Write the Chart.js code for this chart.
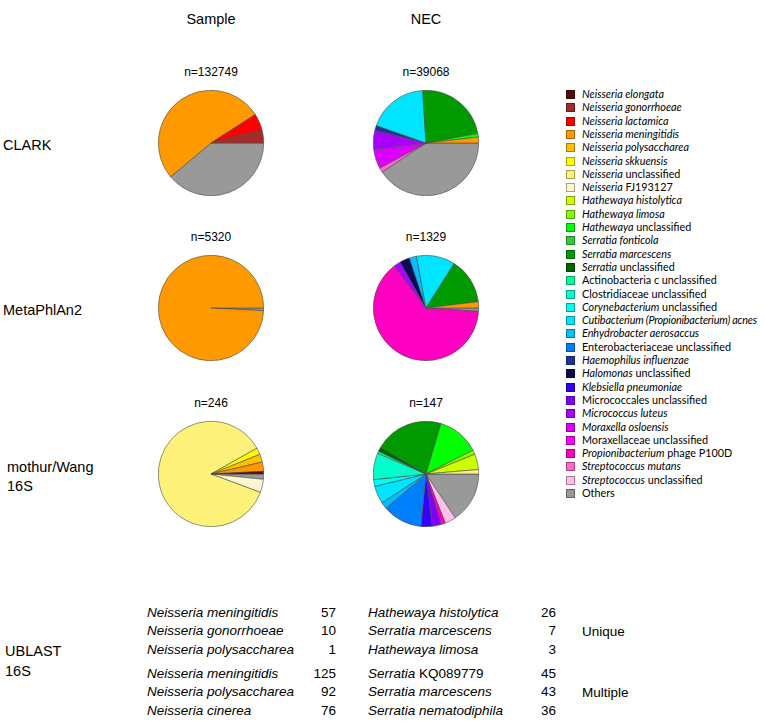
<!DOCTYPE html>
<html>
<head>
<meta charset="utf-8">
<script src="https://cdn.jsdelivr.net/npm/chart.js@4.4.1/dist/chart.umd.min.js"></script>
<style>
  html, body { margin: 0; padding: 0; background: #fff; }
  body { width: 765px; height: 727px; position: relative; overflow: hidden;
         font-family: "Liberation Sans", Arial, sans-serif; color: #000; }
  .txt { position: absolute; white-space: nowrap; }
  .pie { position: absolute; width: 106px; height: 106px; }
  .leg { position: absolute; left: 566px; font-family: Lato, "Open Sans", sans-serif;
         font-size: 10.8px; white-space: nowrap; line-height: 13px; }
  .sw { display: inline-block; width: 7px; height: 7px; border: 1px solid rgba(0,0,0,0.35);
        margin-right: 7px; vertical-align: -1px; }
</style>
</head>
<body>
<script>
// ----------------- Datos -----------------

// [parte en cursiva, parte normal]
const taxa = [
  ['Neisseria elongata', ''], ['Neisseria gonorrhoeae', ''], ['Neisseria lactamica', ''],
  ['Neisseria meningitidis', ''], ['Neisseria polysaccharea', ''], ['Neisseria skkuensis', ''],
  ['Neisseria', ' unclassified'], ['Neisseria', ' FJ193127'], ['Hathewaya histolytica', ''],
  ['Hathewaya limosa', ''], ['Hathewaya', ' unclassified'], ['Serratia fonticola', ''],
  ['Serratia marcescens', ''], ['Serratia', ' unclassified'], ['', 'Actinobacteria c unclassified'],
  ['', 'Clostridiaceae unclassified'], ['Corynebacterium', ' unclassified'],
  ['Cutibacterium (Propionibacterium) acnes', ''], ['Enhydrobacter aerosaccus', ''],
  ['', 'Enterobacteriaceae unclassified'], ['Haemophilus influenzae', ''], ['Halomonas', ' unclassified'],
  ['Klebsiella pneumoniae', ''], ['', 'Micrococcales unclassified'], ['Micrococcus luteus', ''],
  ['Moraxella osloensis', ''], ['', 'Moraxellaceae unclassified'], ['Propionibacterium', ' phage P100D'],
  ['Streptococcus mutans', ''], ['Streptococcus', ' unclassified'], ['', 'Others']
];

const taxaColors = [
  '#550a0a', '#a52a2a', '#ff0000', '#ff9900', '#ffc000', '#ffff00', '#fff27a', '#fff7cf',
  '#ccff00', '#80ff00', '#00ff00', '#33cc33', '#009900', '#006600', '#00ff99', '#00ffcc',
  '#00ffee', '#00e5ff', '#00bfff', '#0080ff', '#1f3399', '#0a0a55', '#3300ff', '#7f00ff',
  '#aa00ff', '#dd00ff', '#ff00ff', '#ff00c0', '#ff66cc', '#ffc0ea', '#999999'
];

const columns = ['Sample', 'NEC'];
const methods = ['CLARK', 'MetaPhlAn2', 'mothur/Wang\n16S'];
const totals = [[132749, 39068], [5320, 1329], [246, 147]];

// valores por taxón (mismo orden que taxa); porcentajes o lecturas
const clarkSample =  [0, 4.0, 5.1, 52.0, 0, 0, 0, 0, 0, 0, 0, 0, 0, 0, 0, 0, 0, 0, 0, 0, 0, 0, 0, 0, 0, 0, 0, 0, 0, 0, 38.9];
const clarkNec =     [0, 0, 0, 1.8, 0, 0, 0, 0, 0, 0, 1.1, 0, 23.1, 0, 0, 0, 0, 18.6, 0, 0, 1.6, 0, 0, 0, 5.7, 6.0, 0, 0, 1.4, 0, 40.7];
const metaSample =   [0, 0, 0, 99.2, 0, 0, 0, 0, 0, 0, 0, 0, 0, 0, 0, 0, 0, 0, 0, 0, 0, 0, 0, 0, 0, 0, 0, 0, 0, 0, 0.8];
const metaNec =      [0, 0, 0, 1.9, 0, 0, 0, 0, 0, 0, 0, 0, 14.1, 0, 0, 0, 0, 11.9, 2.2, 0, 0, 3.1, 0, 0, 2.1, 0, 0, 63.7, 0, 0, 1.0];
const mothurSample = [2, 0, 0, 7, 6, 5, 212, 10, 0, 0, 0, 0, 0, 0, 0, 0, 0, 0, 0, 0, 0, 0, 0, 0, 0, 0, 0, 0, 0, 0, 4];
const mothurNec =    [0, 0, 0, 0, 0, 0, 2, 0, 7, 2, 19, 0, 31, 2, 1, 12, 3, 8, 3, 18, 0, 0, 5, 4, 0, 0, 0, 2, 0, 5, 23];

const pieValues = [[clarkSample, clarkNec], [metaSample, metaNec], [mothurSample, mothurNec]];

// tabla UBLAST 16S: [cursiva, normal, lecturas]
const uniqueSample = [['Neisseria meningitidis', '', 57], ['Neisseria gonorrhoeae', '', 10], ['Neisseria polysaccharea', '', 1]];
const uniqueNec = [['Hathewaya histolytica', '', 26], ['Serratia marcescens', '', 7], ['Hathewaya limosa', '', 3]];
const multipleSample = [['Neisseria meningitidis', '', 125], ['Neisseria polysaccharea', '', 92], ['Neisseria cinerea', '', 76]];
const multipleNec = [['Serratia', ' KQ089779', 45], ['Serratia marcescens', '', 43], ['Serratia nematodiphila', '', 36]];

// ----------------- Layout -----------------

const colX = [211, 426];
const rowY = [143, 308, 474];
const pieR = 53;

function addText(text, x, y, css) {
  const d = document.createElement('div');
  d.className = 'txt';
  d.innerHTML = text;
  d.style.left = x + 'px';
  d.style.top = y + 'px';
  Object.assign(d.style, css || {});
  document.body.appendChild(d);
  return d;
}

function nameHtml(it, rest) {
  return (it ? `<i>${it}</i>` : '') + (rest || '');
}

// encabezados
columns.forEach((c, i) => {
  addText(c, colX[i] - 60, 11, { width: '120px', textAlign: 'center', fontSize: '14.5px' });
});

methods.forEach((m, r) => {
  const lines = m.split('\n');
  const top = rowY[r] + 2 - lines.length * 9;
  addText(lines.join('<br>'), r === 2 ? 7 : 3, top, { fontSize: '14.5px', lineHeight: '19px' });
});

// ----------------- Tortas -----------------

function drawPie(values, cx, cy) {
  const holder = document.createElement('div');
  holder.className = 'pie';
  holder.style.left = (cx - pieR) + 'px';
  holder.style.top = (cy - pieR) + 'px';
  const canvas = document.createElement('canvas');
  holder.appendChild(canvas);
  document.body.appendChild(holder);

  // R dibuja en sentido antihorario desde las 3; Chart.js va en sentido horario -> invertir
  const idx = values.map((v, i) => i).filter(i => values[i] > 0).reverse();

  new Chart(canvas.getContext('2d'), {
    type: 'pie',
    data: {
      labels: idx.map(i => taxa[i].join('')),
      datasets: [{
        data: idx.map(i => values[i]),
        backgroundColor: idx.map(i => taxaColors[i]),
        borderColor: '#4a4a4a',
        borderWidth: 0.6,
        hoverOffset: 0
      }]
    },
    options: {
      responsive: true,
      maintainAspectRatio: false,
      animation: false,
      events: [],
      rotation: 90,
      layout: { padding: 0 },
      plugins: { legend: { display: false }, tooltip: { enabled: false } }
    }
  });
}

pieValues.forEach((row, r) => {
  row.forEach((vals, c) => {
    addText('n=' + totals[r][c], colX[c] - 50, rowY[r] - 78, { width: '100px', textAlign: 'center', fontSize: '12px' });
    drawPie(vals, colX[c], rowY[r]);
  });
});

// ----------------- Leyenda -----------------

taxa.forEach((t, i) => {
  const d = document.createElement('div');
  d.className = 'leg';
  d.style.top = (87 + i * 13.3) + 'px';
  d.innerHTML = `<span class="sw" style="background:${taxaColors[i]}"></span>` + nameHtml(t[0], t[1]);
  if (d.textContent.length > 35) d.style.letterSpacing = '-0.2px';
  document.body.appendChild(d);
});

// ----------------- Tabla UBLAST -----------------

addText('UBLAST<br>16S', 5, 641, { fontSize: '14.5px', lineHeight: '20px' });

function drawBlock(rows, x, numRight, y0) {
  rows.forEach((r, k) => {
    const y = y0 + k * 18.3;
    addText(nameHtml(r[0], r[1]), x, y, { fontSize: '13.5px' });
    addText(String(r[2]), numRight - 40, y, { width: '40px', textAlign: 'right', fontSize: '13.5px' });
  });
}

drawBlock(uniqueSample, 147, 336, 605);
drawBlock(uniqueNec, 368, 556, 605);
drawBlock(multipleSample, 147, 336, 666);
drawBlock(multipleNec, 368, 556, 666);
addText('Unique', 582, 624, { fontSize: '13.5px' });
addText('Multiple', 582, 685, { fontSize: '13.5px' });
</script>
</body>
</html>
